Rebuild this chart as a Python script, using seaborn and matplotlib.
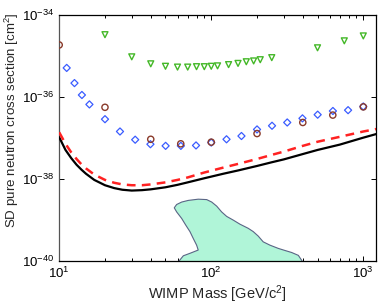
import matplotlib
matplotlib.use("Agg")
import matplotlib.pyplot as plt
import numpy as np
import pandas as pd
import seaborn as sns

# green triangles
tri_mass = [20, 30, 40, 50, 60, 70, 80, 90, 100, 110, 130, 150, 170, 190, 210, 250, 500, 750, 1000]
tri_log = [-34.49, -35.03, -35.20, -35.26, -35.28, -35.28, -35.27, -35.27, -35.26, -35.25,
           -35.22, -35.19, -35.15, -35.13, -35.10, -35.05, -34.81, -34.64, -34.52]

# blue diamonds
dia_mass = [11.2, 12.6, 14.1, 15.8, 20, 25.1, 31.6, 39.8, 50.1, 63.1, 79.4, 100, 126, 158,
            200, 251, 316, 398, 501, 631, 794, 1000]
dia_log = [-35.30, -35.67, -35.96, -36.19, -36.55, -36.85, -37.05, -37.16, -37.20, -37.20,
           -37.19, -37.12, -37.04, -36.96, -36.80, -36.71, -36.63, -36.53, -36.44, -36.35, -36.33, -36.24]

# brown circles
circ_mass = [10, 20, 40, 63, 100, 200, 400, 630, 1000]
circ_log = [-34.74, -36.26, -37.04, -37.15, -37.11, -36.90, -36.63, -36.45, -36.25]

# black solid limit
black_mass = [10, 11, 12, 13, 14, 15, 17, 20, 23, 26, 30, 35, 40, 50, 60, 70, 90, 120,
              150, 200, 250, 300, 400, 500, 700, 1000, 1250]
black_log = [-36.99, -37.30, -37.50, -37.66, -37.78, -37.88, -38.03, -38.16, -38.23, -38.27,
             -38.29, -38.28, -38.26, -38.21, -38.15, -38.09, -37.99, -37.88, -37.80, -37.69,
             -37.60, -37.53, -37.40, -37.30, -37.17, -37.00, -36.90]

# red dashed limit
red_mass = [10, 11, 12, 13, 14, 15, 17, 20, 23, 26, 30, 35, 40, 50, 60, 70, 90, 120,
            150, 200, 250, 300, 400, 500, 700, 1000, 1260]
red_log = [-36.87, -37.15, -37.36, -37.52, -37.65, -37.75, -37.90, -38.03, -38.10, -38.14,
           -38.16, -38.16, -38.14, -38.09, -38.03, -37.97, -37.85, -37.73, -37.64, -37.52,
           -37.42, -37.34, -37.20, -37.10, -36.98, -36.85, -36.78]

# filled region
reg_mass = [60.1, 65.5, 72.4, 82.1, 80.1, 76.2, 72.4, 67.9, 63.9, 59.2, 57.1, 59.2, 63.9, 70.6,
            82.1, 93.3, 100.7, 108.6, 117, 126.3, 139.5, 154.5, 175, 188.8, 203.7, 219.6, 243,
            276, 305, 338, 374, 403]
reg_log = [-40.05, -39.88, -39.82, -39.74, -39.62, -39.46, -39.29, -39.13, -38.97, -38.81,
           -38.71, -38.63, -38.57, -38.53, -38.50, -38.51, -38.57, -38.67, -38.81, -38.92,
           -39.01, -39.11, -39.21, -39.29, -39.40, -39.54, -39.62, -39.70, -39.75, -39.80,
           -39.87, -40.05]

sns.set_theme(style="ticks")
plt.rcParams["font.family"] = ["Liberation Sans", "DejaVu Sans"]
plt.rcParams["mathtext.default"] = "regular"
plt.rcParams["xtick.direction"] = "in"
plt.rcParams["ytick.direction"] = "in"

fig = plt.figure(figsize=(3.82, 3.04), dpi=100)
ax = fig.add_axes([0.155, 0.1424, 0.829, 0.8096])

ax.fill(reg_mass, [10.0 ** v for v in reg_log], facecolor="#b0f5d8", edgecolor="#5a6585", linewidth=0.8, zorder=1)

black = pd.DataFrame({"m": black_mass, "s": [10.0 ** v for v in black_log]})
red = pd.DataFrame({"m": red_mass, "s": [10.0 ** v for v in red_log]})
sns.lineplot(data=black, x="m", y="s", color="black", linewidth=1.6, ax=ax, zorder=3)
sns.lineplot(data=red, x="m", y="s", color="#ff2222", linewidth=1.8, ax=ax, zorder=4)
ax.lines[-1].set_dashes([3.5, 2.5])

tri = pd.DataFrame({"m": tri_mass, "s": [10.0 ** v for v in tri_log]})
dia = pd.DataFrame({"m": dia_mass, "s": [10.0 ** v for v in dia_log]})
circ = pd.DataFrame({"m": circ_mass, "s": [10.0 ** v for v in circ_log]})
sns.scatterplot(data=tri, x="m", y="s", marker="v", s=18, facecolor="none", edgecolor="#44b828", linewidth=1.0, ax=ax, zorder=5)
sns.scatterplot(data=dia, x="m", y="s", marker="D", s=13, facecolor="none", edgecolor="#3a5cff", linewidth=0.9, ax=ax, zorder=5)
sns.scatterplot(data=circ, x="m", y="s", marker="o", s=20, facecolor="none", edgecolor="#8a3a2a", linewidth=1.0, ax=ax, zorder=6)

ax.set_xscale("log")
ax.set_yscale("log")
ax.set_xlim(10, 1210)
ax.set_ylim(1e-40, 1e-34)
ax.set_yticks([1e-40, 1e-38, 1e-36, 1e-34])
ax.set_yticklabels(["$10^{-40}$", "$10^{-38}$", "$10^{-36}$", "$10^{-34}$"])
ax.yaxis.set_minor_locator(matplotlib.ticker.NullLocator())
ax.set_xticks([10, 100, 1000])
ax.set_xticklabels(["$10^{1}$", "$10^{2}$", "$10^{3}$"])
ax.tick_params(which="both", top=True, right=True, labelsize=9.5, colors="black", width=0.7)
ax.tick_params(which="major", length=3.5)
ax.tick_params(which="minor", length=2)
for sp in ax.spines.values():
    sp.set_linewidth(0.9)
    sp.set_color("black")
ax.spines["left"].set_color("#555555")

ax.set_xlabel("WIMP Mass [GeV/c$^2$]", fontsize=10.5, labelpad=2)
ax.set_ylabel("SD pure neutron cross section [cm$^2$]", fontsize=9.6)
ax.yaxis.set_label_coords(-0.121, 0.57)

fig.savefig("out.png", dpi=100)
